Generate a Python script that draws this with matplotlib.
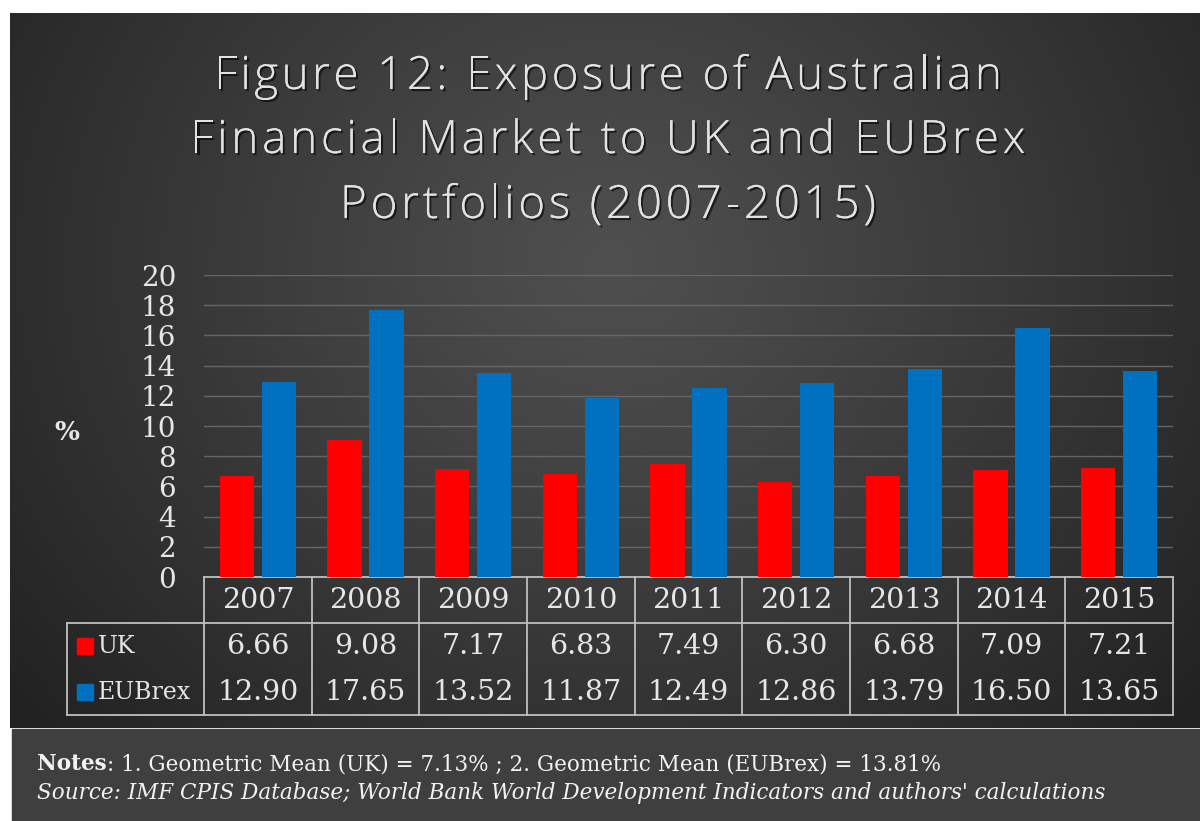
import numpy as np
import matplotlib
matplotlib.use("Agg")
import matplotlib.pyplot as plt
from matplotlib.patches import Rectangle
from matplotlib.font_manager import FontProperties
import matplotlib.patheffects as pe

years = ['2007', '2008', '2009', '2010', '2011', '2012', '2013', '2014', '2015']
uk = [6.66, 9.08, 7.17, 6.83, 7.49, 6.30, 6.68, 7.09, 7.21]
eubrex = [12.90, 17.65, 13.52, 11.87, 12.49, 12.86, 13.79, 16.50, 13.65]
series_names = ['UK', 'EUBrex']
series_colors = ['#ff0000', '#0070c0']
yticks = list(range(0, 21, 2))

title_lines = ['Figure 12: Exposure of Australian',
               'Financial Market to UK and EUBrex',
               'Portfolios (2007-2015)']
note_bold = 'Notes'
note_rest = ': 1. Geometric Mean (UK) = 7.13% ; 2. Geometric Mean (EUBrex) = 13.81%'
source = "Source: IMF CPIS Database; World Bank World Development Indicators and authors' calculations"

W, H = 1200, 821
fig = plt.figure(figsize=(W / 100, H / 100), dpi=100)
fig.patch.set_facecolor('white')

# dark panel with radial gradient
pw, ph = 1190, 715
bg = fig.add_axes([10 / W, (H - 728) / H, pw / W, ph / H], zorder=-10)
yy, xx = np.mgrid[0:ph, 0:pw]
d = np.sqrt((xx - 600) ** 2 + ((yy - 250) / 0.9) ** 2) / 760
d = np.clip(d, 0, 1)
val = 0.31 - (0.31 - 0.135) * d ** 1.1
bg.imshow(np.dstack([val, val, val]), aspect='auto', extent=[0, 1, 0, 1])
bg.axis('off')

# notes panel
fig.patches.append(Rectangle((12 / W, 0), (W - 12) / W, 92 / H,
                             transform=fig.transFigure, color='#3f3f3f', zorder=-5))

# title, drawn letter by letter to get the wide letter spacing
renderer = fig.canvas.get_renderer()
tfp = FontProperties(family='Open Sans', weight='light', size=33)


def tw(s):
    return renderer.get_text_width_height_descent(s, tfp, ismath=False)[0]


shadow = [pe.withSimplePatchShadow(offset=(1.5, -1.5), shadow_rgbFace='black', alpha=0.6), pe.Normal()]
baselines = [89, 153, 218]
widths = [788, 835, 536]
cx = 608
for line, base, target in zip(title_lines, baselines, widths):
    adv = [tw('|' + c + '|') - tw('||') for c in line]
    off = [a - tw(c + '|') + tw('|') for c, a in zip(line, adv)]
    track = (target - sum(adv)) / (len(line) - 1)
    pen = cx - target / 2
    for c, a, o in zip(line, adv, off):
        if c != ' ':
            fig.text((pen + o) / W, 1 - base / H, c, ha='left', va='baseline',
                     fontproperties=tfp, color='#e2e2e2', path_effects=shadow)
        pen += a + track

ax_l, ax_r, ax_t, ax_b = 204, 1173, 275, 577
ax = fig.add_axes([ax_l / W, 1 - ax_b / H, (ax_r - ax_l) / W, (ax_b - ax_t) / H])
ax.set_facecolor('none')
x = np.arange(len(years))
bw = 0.32
ax.bar(x - 0.195, uk, bw, color=series_colors[0], zorder=3)
ax.bar(x + 0.195, eubrex, bw, color=series_colors[1], zorder=3)
ax.set_xlim(-0.5, len(years) - 0.5)
ax.set_ylim(0, 20)
ax.set_yticks(yticks)
ax.set_xticks([])
ax.yaxis.grid(True, color='#666666', lw=1)
ax.set_axisbelow(True)
for s in ax.spines.values():
    s.set_visible(False)
ax.tick_params(axis='y', length=0, pad=20, labelsize=20, labelcolor='#e6e6e6')
for lab in ax.get_yticklabels():
    lab.set_family('DejaVu Serif')

fig.text(67 / W, 1 - 432 / H, '%', ha='center', va='center', fontsize=19,
         family='DejaVu Serif', weight='bold', color='#e6e6e6')

# data table under the axis
tr = ax.get_xaxis_transform()
rh = 46 / (ax_b - ax_t)
px = (ax_r - ax_l) / len(years)
x_left = -0.5 + (67 - ax_l) / px
lc = '#bfbfbf'
lw = 1.3
ax.plot([-0.5, len(years) - 0.5], [0, 0], color=lc, lw=lw, transform=tr, clip_on=False)
ax.plot([x_left, len(years) - 0.5], [-rh, -rh], color=lc, lw=lw, transform=tr, clip_on=False)
ax.plot([x_left, len(years) - 0.5], [-3 * rh, -3 * rh], color=lc, lw=lw, transform=tr, clip_on=False)
ax.plot([x_left, x_left], [-rh, -3 * rh], color=lc, lw=lw, transform=tr, clip_on=False)
for i in range(len(years) + 1):
    ax.plot([i - 0.5, i - 0.5], [0, -3 * rh], color=lc, lw=lw, transform=tr, clip_on=False)

tkw = dict(ha='center', va='center', fontsize=20.5, family='DejaVu Serif',
           color='#e6e6e6', transform=tr, clip_on=False)
for i, yr in enumerate(years):
    ax.text(i, -0.5 * rh, yr, **tkw)
    ax.text(i, -1.5 * rh, f'{uk[i]:.2f}', **tkw)
    ax.text(i, -2.5 * rh, f'{eubrex[i]:.2f}', **tkw)

mk_x = -0.5 + (85 - ax_l) / px
lab_x = -0.5 + (98 - ax_l) / px
for k, (name, col) in enumerate(zip(series_names, series_colors)):
    yrow = -(1.5 + k) * rh
    ax.plot([mk_x], [yrow], marker='s', ms=11.5, color=col, transform=tr, clip_on=False)
    ax.text(lab_x, yrow, name, ha='left', va='center', fontsize=17, family='DejaVu Serif',
            color='#e6e6e6', transform=tr, clip_on=False)

# notes
t1 = fig.text(37 / W, 1 - 770 / H, note_bold, ha='left', va='baseline', fontsize=15.5,
              family='DejaVu Serif', weight='bold', color='#f2f2f2')
ax.annotate(note_rest, xy=(1, 0), xycoords=t1, ha='left', va='bottom', fontsize=15.5,
            family='DejaVu Serif', color='#f2f2f2', annotation_clip=False)
fig.text(37 / W, 1 - 799 / H, source, ha='left', va='baseline', fontsize=15.5,
         family='DejaVu Serif', style='italic', color='#f2f2f2')

fig.savefig('out.png', dpi=100)
